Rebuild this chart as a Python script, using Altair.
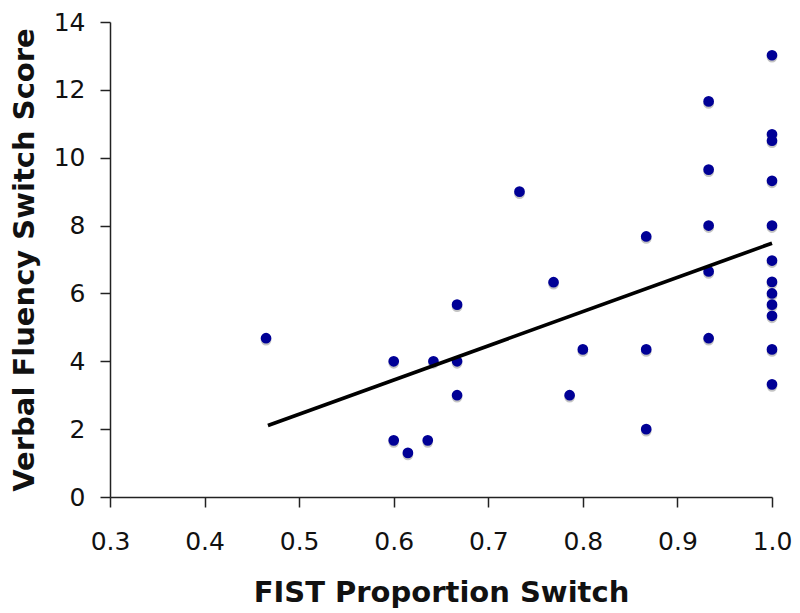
import altair as alt
import pandas as pd

# Scatter data
fist_prop = [0.465, 0.600, 0.600, 0.615, 0.636, 0.642, 0.667, 0.667, 0.667,
             0.733, 0.769, 0.786, 0.800, 0.867, 0.867, 0.867,
             0.933, 0.933, 0.933, 0.933, 0.933,
             1.0, 1.0, 1.0, 1.0, 1.0, 1.0, 1.0, 1.0, 1.0, 1.0, 1.0, 1.0]
vf_switch = [4.68, 4.0, 1.67, 1.30, 1.67, 4.0, 4.0, 5.67, 3.0,
             9.0, 6.33, 3.0, 4.35, 7.68, 4.35, 2.0,
             11.66, 9.65, 8.0, 6.65, 4.68,
             13.02, 10.69, 10.5, 9.32, 8.0, 6.97, 6.34, 6.0, 5.67, 5.34, 4.35, 3.32]

# Fitted line end points
fit_x = [0.467, 1.0]
fit_y = [2.11, 7.48]

x_ticks = [0.3, 0.4, 0.5, 0.6, 0.7, 0.8, 0.9, 1.0]
y_ticks = [0, 2, 4, 6, 8, 10, 12, 14]

pts = pd.DataFrame({"x": fist_prop, "y": vf_switch})
fit = pd.DataFrame({"x": fit_x, "y": fit_y})

FONT = "DejaVu Sans"

xs = alt.Scale(domain=[0.3, 1.0], nice=False, zero=False)
ys = alt.Scale(domain=[0, 14], nice=False)

x_axis = alt.Axis(values=x_ticks, format=".1f", title="FIST Proportion Switch",
                  grid=False, tickSize=10, labelPadding=22, titlePadding=24,
                  labelFlush=False)
y_axis = alt.Axis(values=y_ticks, format="d", title="Verbal Fluency Switch Score",
                  grid=False, tickSize=10, labelPadding=15, titlePadding=14,
                  labelFlush=False)

shadow = alt.Chart(pts).mark_circle(size=115, opacity=1, color="#c4c4c4", yOffset=2).encode(
    x=alt.X("x:Q", scale=xs, axis=x_axis),
    y=alt.Y("y:Q", scale=ys, axis=y_axis),
)

dots = alt.Chart(pts).mark_circle(size=115, opacity=1, color="#000096").encode(
    x=alt.X("x:Q", scale=xs),
    y=alt.Y("y:Q", scale=ys),
)

line = alt.Chart(fit).mark_line(color="black", strokeWidth=3.7).encode(
    x=alt.X("x:Q", scale=xs),
    y=alt.Y("y:Q", scale=ys),
)

chart = (shadow + dots + line).properties(
    width=662, height=475,
    autosize=alt.AutoSizeParams(type="none"),
    padding={"left": 102, "top": 14, "right": 20, "bottom": 113},
).configure_view(
    stroke=None
).configure_axis(
    labelFont=FONT, labelFontSize=25, labelColor="#111111",
    titleFont=FONT, titleFontSize=29, titleFontWeight="bold", titleColor="#111111",
    domainColor="#222222", domainWidth=1.5, tickColor="#222222", tickWidth=1.5,
)

chart.save("out.html", embed_options={"renderer": "svg", "actions": False})
